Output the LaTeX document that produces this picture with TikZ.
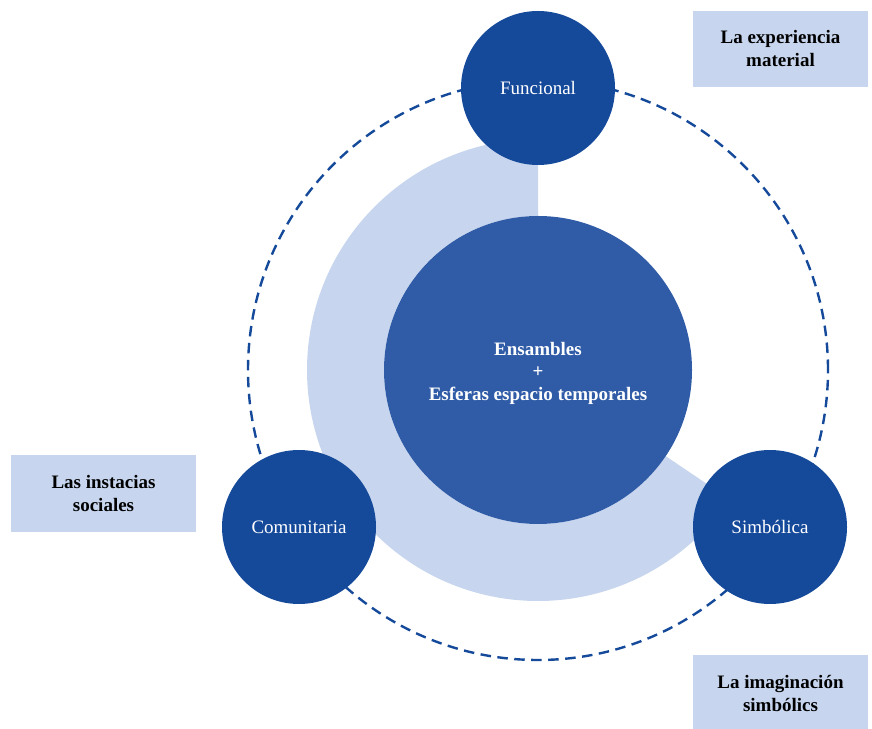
\documentclass[tikz,border=0pt]{standalone}
\usepackage{fontspec}
\setmainfont{Liberation Serif}
\usetikzlibrary{calc}
\definecolor{darkblue}{RGB}{21,73,154}
\definecolor{midblue}{RGB}{47,91,167}
\definecolor{lightblue}{RGB}{199,214,238}
\tikzset{
  small/.style={circle, fill=darkblue, minimum size=154pt, inner sep=0pt, text=white,
    font=\fontsize{19}{23}\selectfont},
  bigc/.style={circle, fill=midblue, minimum size=308pt, inner sep=0pt},
  bigtext/.style={text=white, align=center, inner sep=0pt,
    font=\fontsize{19}{22.5}\selectfont\bfseries},
  labelbox/.style={rectangle, fill=lightblue, inner sep=0pt, align=center, text=black,
    font=\fontsize{19}{23}\selectfont\bfseries},
  orbit/.style={draw=darkblue, line width=2.4pt, dash pattern=on 10.5pt off 6.5pt}
}
\begin{document}
\begin{tikzpicture}[x=1pt,y=1pt]
\useasboundingbox (0,0) rectangle (872,728);
\coordinate (C) at (538,358);
% dashed orbit
\draw[orbit] (C) circle[radius=290];
% light ring
\fill[lightblue] ($(C)+(90:231)$) arc[start angle=90, end angle=326, radius=231]
  -- ($(C)+(326:154)$) arc[start angle=326, end angle=90, radius=154] -- cycle;
% centre
\node[bigc] (center) at (C) {};
\node[bigtext] (centertext) at ($(C)+(0,-3)$) {Ensambles\\+\\Esferas espacio temporales};
% outer circles
\node[small] (fun) at (538,640) {Funcional};
\node[small] (com) at (299,201) {Comunitaria};
\node[small] (sim) at (770,201) {Simbólica};
% label boxes
\node[labelbox, minimum width=175pt, minimum height=76pt] (exp) at (780.5,679) {La experiencia\\material};
\node[labelbox, minimum width=185pt, minimum height=77pt] (soc) at (103.5,234.5) {Las instacias\\sociales};
\node[labelbox, minimum width=175pt, minimum height=76pt] (ima) at (780.5,35) {La imaginación\\simbólics};
\end{tikzpicture}
\end{document}
